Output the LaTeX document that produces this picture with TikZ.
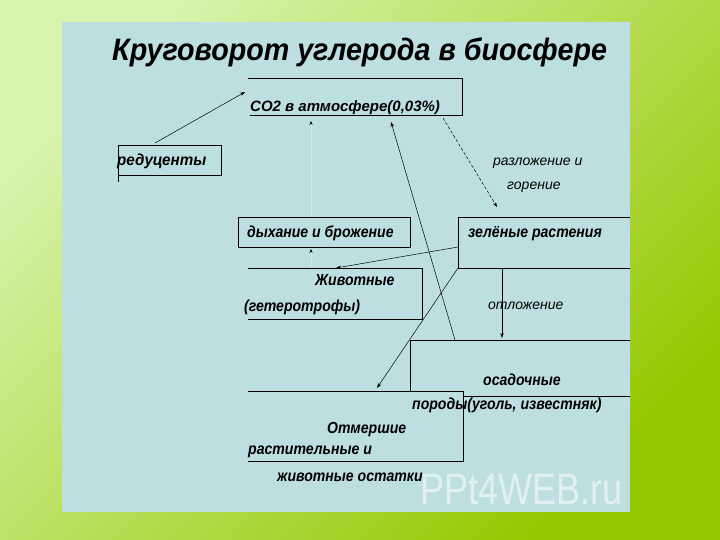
\documentclass[tikz,border=0pt]{standalone}
\usepackage{fontspec}
\setmainfont{Liberation Sans}
\usetikzlibrary{arrows.meta}
\definecolor{bgA}{RGB}{216,243,172}
\definecolor{bgB}{RGB}{150,200,0}
\definecolor{panel}{RGB}{190,223,226}
\definecolor{faint}{RGB}{206,233,235}
\tikzset{
  boxline/.style={draw=black, line width=0.9pt},
  conn/.style={draw=black, line width=0.5pt, -{Stealth[length=5pt,width=3.5pt]}},
  faintconn/.style={draw=faint, line width=0.6pt, -{Stealth[length=4pt,width=3pt,color=black]}},
  lbl/.style={anchor=base west, inner sep=0pt, xscale=0.88, font=\fontsize{16}{18}\selectfont\bfseries\itshape},
  lblr/.style={anchor=base west, inner sep=0pt, font=\fontsize{14}{16}\selectfont\itshape},
}
\begin{document}
\begin{tikzpicture}[x=1pt,y=-1pt]
\useasboundingbox (0,0) rectangle (720,540);
\shade[shading=axis, top color=bgA, bottom color=bgB, shading angle=45] (0,0) rectangle (720,540);
\fill[panel] (62,22) rectangle (630,512);

% title
\node[inner sep=0pt, anchor=base west, xscale=0.925, font=\fontsize{31}{33}\selectfont\bfseries\itshape] (title) at (112,61) {Круговорот углерода в биосфере};

% CO2 box
\draw[boxline] (248,78) -- (462,78) -- (462,115) -- (250,115);
\node[anchor=base west, inner sep=0pt, font=\fontsize{15}{17}\selectfont\bfseries\itshape] (co2) at (250,112) {CO2 в атмосфере(0,03\%)};

% reducers
\draw[boxline] (118,182) -- (118,145) -- (221,145) -- (221,175) -- (118,175);
\node[anchor=base west, inner sep=0pt, xscale=0.95, font=\fontsize{16}{18}\selectfont\bfseries\itshape] (red) at (117,166) {редуценты};

% decomposition label
\node[lblr] (decomp1) at (493,166) {разложение и};
\node[lblr] (decomp2) at (507,190) {горение};

% respiration box
\draw[boxline] (238,217) rectangle (410,247);
\node[lbl] (resp) at (247,237) {дыхание и брожение};

% green plants
\draw[boxline] (630,217) -- (458,217) -- (458,268) -- (630,268);
\node[lbl] (plants) at (468,237) {зелёные растения};

% animals
\draw[boxline] (248,268) -- (422,268) -- (422,319) -- (248,319);
\node[lbl] (anim1) at (315,285) {Животные};
\node[lbl] (anim2) at (244,311) {(гетеротрофы)};

% deposition label
\node[lblr] (depos) at (488,309) {отложение};

% sedimentary rocks
\draw[boxline] (410,391) -- (410,340) -- (630,340);
\draw[boxline] (463,396) -- (630,396);
\node[lbl] (sed1) at (483,385) {осадочные};
\node[lbl] (sed2) at (412,409) {породы(уголь, известняк)};

% dead remains
\draw[boxline] (248,391) -- (463,391) -- (463,461) -- (248,461);
\node[lbl] (dead1) at (327,433) {Отмершие};
\node[lbl] (dead2) at (248,454) {растительные и};
\node[lbl] (dead3) at (277,481) {животные остатки};

% connector coordinates
\coordinate (redT) at (155,143);
\coordinate (co2L) at (245,92);
\coordinate (co2R) at (443,118);
\coordinate (plantsT) at (497,207);
\coordinate (sedT) at (455,340);
\coordinate (co2M) at (391,122);
\coordinate (plantsBL) at (458,268);
\coordinate (deadT) at (377,388);
\coordinate (plantsL) at (458,247);
\coordinate (animT) at (336,268);
\coordinate (plantsB) at (502,268);
\coordinate (sedT2) at (502,338);
\coordinate (respT) at (311,216);
\coordinate (co2B) at (311,121);
\coordinate (animT2) at (311,267);
\coordinate (respB) at (311,249);

\draw[conn] (redT) -- (co2L);
\draw[conn, densely dashed] (co2R) -- (plantsT);
\draw[conn] (sedT) -- (co2M);
\draw[conn] (plantsBL) -- (deadT);
\draw[conn] (plantsL) -- (animT);
\draw[conn] (plantsB) -- (sedT2);
\draw[faintconn] (respT) -- (co2B);
\draw[faintconn] (animT2) -- (respB);

% watermark
\node[inner sep=0pt, anchor=base west, text=white, opacity=0.55, xscale=0.82, font=\fontsize{44}{46}\selectfont] (wm) at (420,504) {PPt4WEB.ru};
\end{tikzpicture}
\end{document}
